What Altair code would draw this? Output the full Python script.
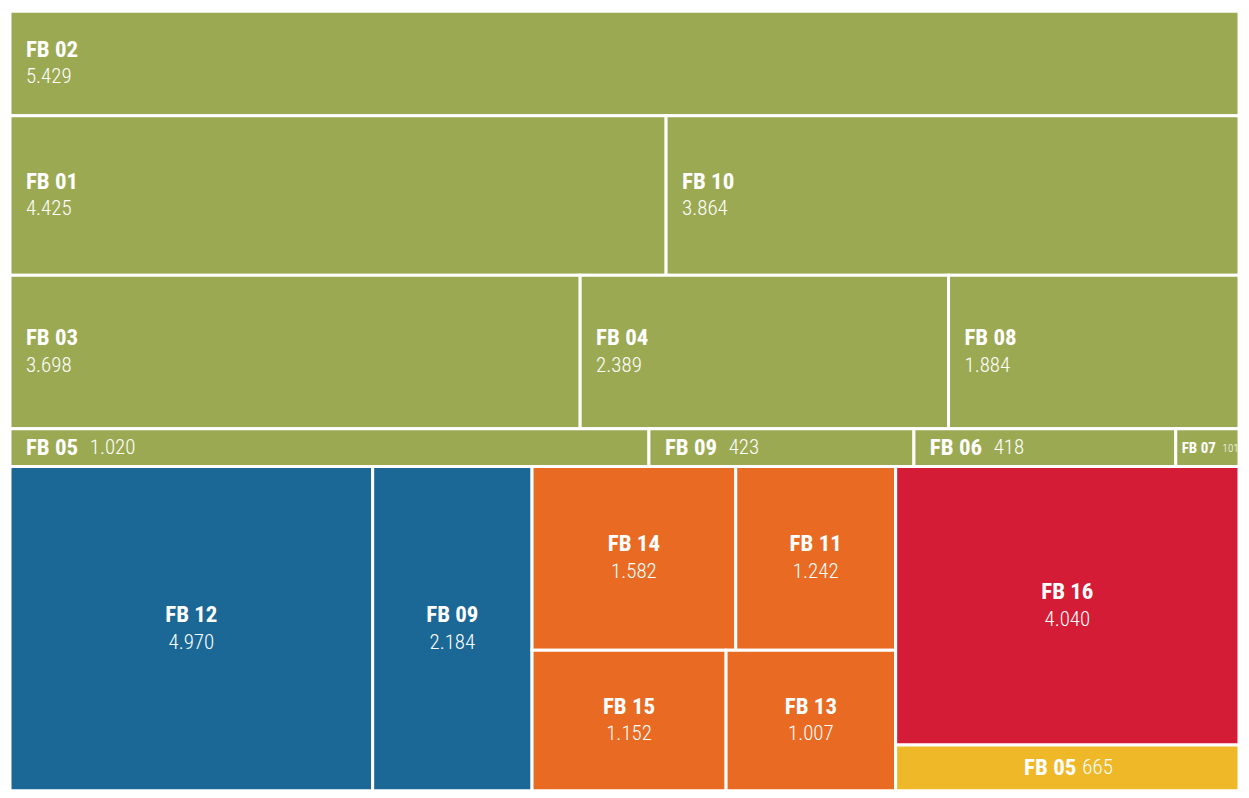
import altair as alt
import pandas as pd

# ---- data ----
green_names = ["FB 02", "FB 01", "FB 10", "FB 03", "FB 04", "FB 08", "FB 05", "FB 09", "FB 06", "FB 07"]
green_values = [5429, 4425, 3864, 3698, 2389, 1884, 1020, 423, 418, 101]
green_rows = [1, 2, 2, 3, 3, 3, 4, 4, 4, 4]

blue_names = ["FB 12", "FB 09"]
blue_values = [4970, 2184]

orange_names = ["FB 14", "FB 11", "FB 15", "FB 13"]
orange_values = [1582, 1242, 1152, 1007]
orange_rows = [1, 1, 2, 2]

red_names = ["FB 16"]
red_values = [4040]

yellow_names = ["FB 05"]
yellow_values = [665]

group_domain = ["green", "blue", "orange", "red", "yellow"]
group_colors = ["#9CA953", "#1B6896", "#E96B23", "#D51C36", "#EEB829"]

FONT = "Liberation Sans Narrow, Roboto Condensed, Roboto, sans-serif"


def leaf(name, value, group, style):
    return {"name": name, "value": value, "group": group, "style": style,
            "vtext": f"{value:,}".replace(",", ".")}


# ---- build nested structure ----
green_row_nodes = []
for r in sorted(set(green_rows)):
    kids = []
    for n, v, rr in zip(green_names, green_values, green_rows):
        if rr == r:
            if r == 4:
                style = "inline_small" if v < 200 else "inline"
            else:
                style = "left"
            kids.append(leaf(n, v, "green", style))
    green_row_nodes.append(("h", kids))
green_node = ("v", green_row_nodes)

orange_row_nodes = []
for r in sorted(set(orange_rows)):
    kids = [leaf(n, v, "orange", "center") for n, v, rr in zip(orange_names, orange_values, orange_rows) if rr == r]
    orange_row_nodes.append(("h", kids))
orange_node = ("v", orange_row_nodes)

red_node = ("v", [leaf(n, v, "red", "center") for n, v in zip(red_names, red_values)]
            + [leaf(n, v, "yellow", "inline_center") for n, v in zip(yellow_names, yellow_values)])

bottom_node = ("h", [leaf(n, v, "blue", "center") for n, v in zip(blue_names, blue_values)]
               + [orange_node, red_node])

root = ("v", [green_node, bottom_node])


def total(node):
    if isinstance(node, dict):
        return node["value"]
    return sum(total(c) for c in node[1])


rows = []


def place(node, x0, y0, x1, y1):
    if isinstance(node, dict):
        rows.append({**node, "x0": x0, "x1": x1, "y0": y0, "y1": y1,
                     "xc": (x0 + x1) / 2, "yc": (y0 + y1) / 2})
        return
    d, kids = node
    t = total(node)
    pos = x0 if d == "h" else y0
    for k in kids:
        f = total(k) / t
        if d == "h":
            w = (x1 - x0) * f
            place(k, pos, y0, pos + w, y1)
            pos += w
        else:
            h = (y1 - y0) * f
            place(k, x0, pos, x1, pos + h)
            pos += h


place(root, 0.0, 0.0, 1.0, 1.0)
df = pd.DataFrame(rows)

xs = alt.Scale(domain=[0, 1], nice=False, zero=False)
ys = alt.Scale(domain=[0, 1], nice=False, zero=False, reverse=True)

base = alt.Chart(df)

rects = base.mark_rect(stroke="white", strokeWidth=3).encode(
    x=alt.X("x0:Q", scale=xs, axis=None),
    x2="x1:Q",
    y=alt.Y("y0:Q", scale=ys, axis=None),
    y2="y1:Q",
    color=alt.Color("group:N", scale=alt.Scale(domain=group_domain, range=group_colors), legend=None),
)


def txt(style, xfield, text, **kw):
    return base.transform_filter(alt.datum.style == style).mark_text(
        font=FONT, color="white", baseline="middle", **kw
    ).encode(
        x=alt.X(f"{xfield}:Q", scale=xs, axis=None),
        y=alt.Y("yc:Q", scale=ys, axis=None),
        text=f"{text}:N",
    )


layers = [
    rects,
    txt("left", "x0", "name", align="left", dx=16, dy=-14, fontSize=23, fontWeight="bold"),
    txt("left", "x0", "vtext", align="left", dx=16, dy=14, fontSize=21, fontWeight=300),
    txt("inline", "x0", "name", align="left", dx=16, dy=0, fontSize=23, fontWeight="bold"),
    txt("inline", "x0", "vtext", align="left", dx=80, dy=0, fontSize=21, fontWeight=300),
    txt("inline_small", "x0", "name", align="left", dx=6, dy=0, fontSize=15, fontWeight="bold"),
    txt("inline_small", "x0", "vtext", align="left", dx=47, dy=1, fontSize=11, fontWeight=300),
    txt("center", "xc", "name", align="center", dy=-14, fontSize=23, fontWeight="bold"),
    txt("center", "xc", "vtext", align="center", dy=14, fontSize=21, fontWeight=300),
    txt("inline_center", "xc", "name", align="right", dx=9, dy=0, fontSize=23, fontWeight="bold"),
    txt("inline_center", "xc", "vtext", align="left", dx=15, dy=0, fontSize=21, fontWeight=300),
]

chart = alt.layer(*layers).properties(
    width=1233, height=782, padding=0
).configure_view(stroke=None)

chart.save("out.html", embed_options={"renderer": "svg", "actions": False})
